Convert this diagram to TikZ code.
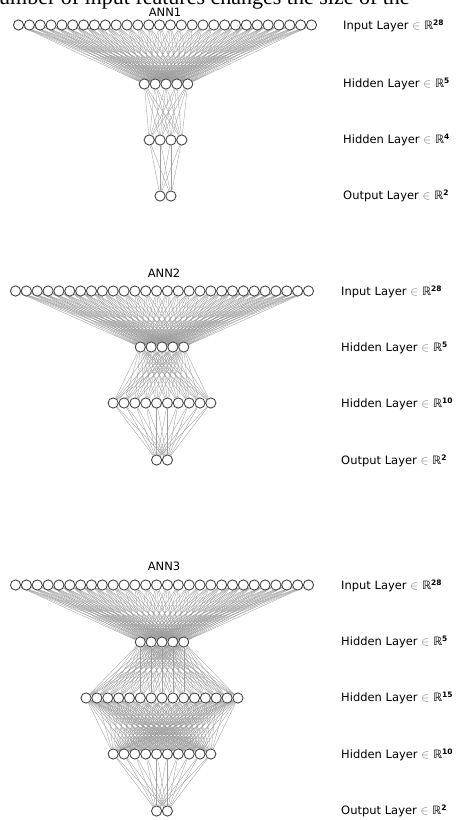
\documentclass[tikz,border=0pt]{standalone}
\usepackage{fontspec}
\setmainfont{DejaVu Sans}
\newfontfamily\bodyserif{Liberation Serif}
\usetikzlibrary{backgrounds}

\tikzset{
  neuron/.style={circle, draw=black!72, line width=0.9pt, fill=white,
                 minimum size=10.2pt, inner sep=0pt},
  link/.style={draw=black!38, line width=0.35pt},
  layername/.style={anchor=west, font=\fontsize{11.5}{12}\selectfont, inner sep=0pt},
  nettitle/.style={font=\fontsize{11.5}{12}\selectfont, inner sep=0pt},
}
% distance between neighbouring neurons
\newcommand\nnsp{10.85}
% #1 net, #2 layer, #3 count, #4 centre x, #5 y
\newcommand\nnlayer[5]{%
  \foreach \i in {1,...,#3}{%
    \node[neuron] (#1-#2-\i) at ({#4+(\i-(#3+1)/2)*\nnsp}, #5) {};}}
% full connection between two layers: #1 net, #2 layer a, #3 count a, #4 layer b, #5 count b
\newcommand\nnlinks[5]{%
  \begin{pgfonlayer}{background}
    \foreach \i in {1,...,#3}{\foreach \j in {1,...,#5}{%
      \draw[link] (#1-#2-\i) -- (#1-#4-\j);}}
  \end{pgfonlayer}}
\newcommand\sups[1]{\raisebox{0.55ex}{\fontsize{7.5}{8}\selectfont\bfseries #1}}
\newcommand\inR{{\color{black!55}$\in$} ℝ}

\begin{document}
\begin{tikzpicture}[x=1pt, y=-1pt]
\useasboundingbox (0,0) rectangle (470,820);
\clip (0,0) rectangle (470,820);

% running text of the page, cut off at the top edge
\node[anchor=base west, inner sep=0pt, font=\bodyserif\fontsize{22}{22}\selectfont]
  (pagetext) at (-12,4) {number of input features changes the size of the};

% ---------------- ANN1 ----------------
\node[nettitle] (t1) at (165,12) {ANN1};
\nnlayer{a}{1}{28}{165}{25}
\nnlayer{a}{2}{5}{166}{84}
\nnlayer{a}{3}{4}{165.5}{140}
\nnlayer{a}{4}{2}{165.5}{196}
\nnlinks{a}{1}{28}{2}{5}
\nnlinks{a}{2}{5}{3}{4}
\nnlinks{a}{3}{4}{4}{2}
\node[layername] (l11) at (343,26) {Input Layer \inR\sups{28}};
\node[layername] (l12) at (343,84) {Hidden Layer \inR\sups{5}};
\node[layername] (l13) at (343,140) {Hidden Layer \inR\sups{4}};
\node[layername] (l14) at (343,196) {Output Layer \inR\sups{2}};

% ---------------- ANN2 ----------------
\node[nettitle] (t2) at (164,273) {ANN2};
\nnlayer{b}{1}{28}{162}{291}
\nnlayer{b}{2}{5}{162}{347}
\nnlayer{b}{3}{10}{162}{403}
\nnlayer{b}{4}{2}{162}{460}
\nnlinks{b}{1}{28}{2}{5}
\nnlinks{b}{2}{5}{3}{10}
\nnlinks{b}{3}{10}{4}{2}
\node[layername] (l21) at (341,292) {Input Layer \inR\sups{28}};
\node[layername] (l22) at (341,348) {Hidden Layer \inR\sups{5}};
\node[layername] (l23) at (341,404) {Hidden Layer \inR\sups{10}};
\node[layername] (l24) at (341,461) {Output Layer \inR\sups{2}};

% ---------------- ANN3 ----------------
\node[nettitle] (t3) at (164,566) {ANN3};
\nnlayer{c}{1}{28}{162}{585}
\nnlayer{c}{2}{5}{162}{642}
\nnlayer{c}{3}{15}{162}{698}
\nnlayer{c}{4}{10}{162}{754}
\nnlayer{c}{5}{2}{162}{811}
\nnlinks{c}{1}{28}{2}{5}
\nnlinks{c}{2}{5}{3}{15}
\nnlinks{c}{3}{15}{4}{10}
\nnlinks{c}{4}{10}{5}{2}
\node[layername] (l31) at (341,586) {Input Layer \inR\sups{28}};
\node[layername] (l32) at (341,642) {Hidden Layer \inR\sups{5}};
\node[layername] (l33) at (341,698) {Hidden Layer \inR\sups{15}};
\node[layername] (l34) at (341,755) {Hidden Layer \inR\sups{10}};
\node[layername] (l35) at (341,811) {Output Layer \inR\sups{2}};
\end{tikzpicture}
\end{document}
